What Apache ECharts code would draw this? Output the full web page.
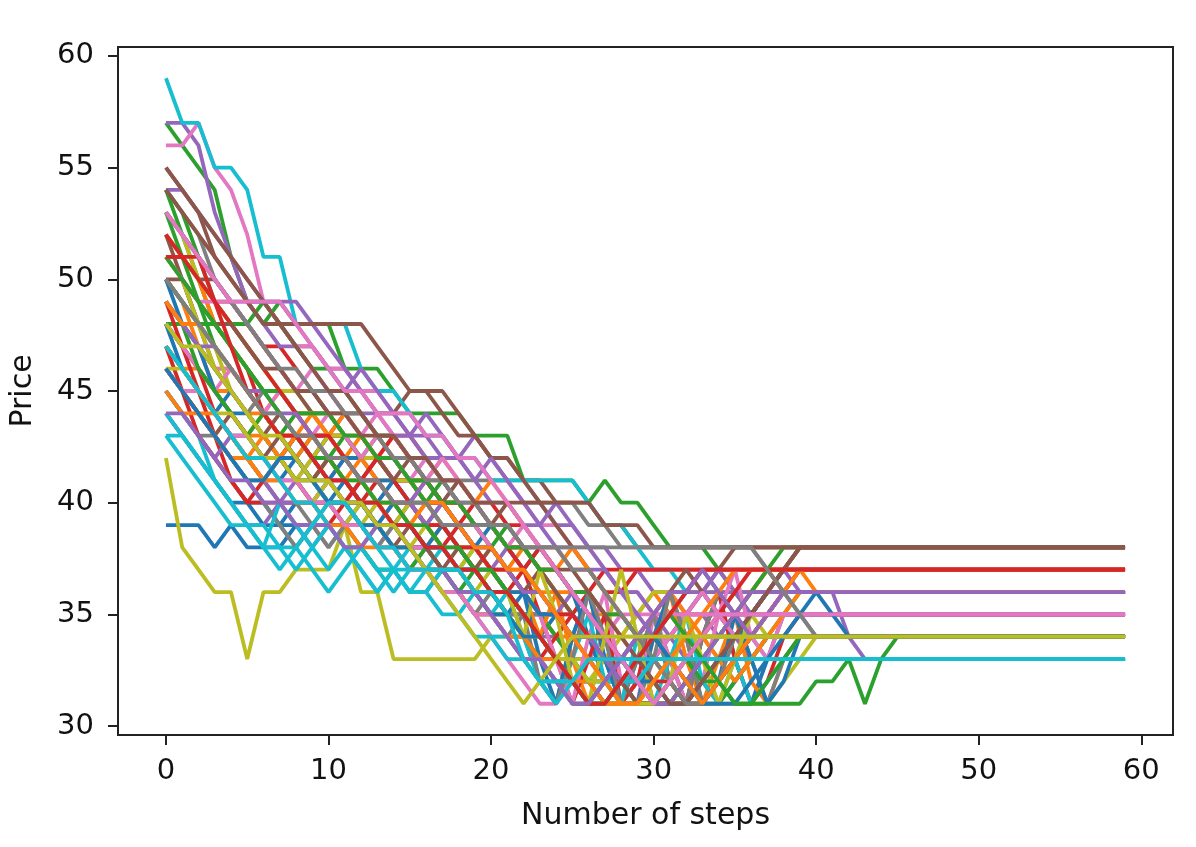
<!DOCTYPE html>
<html>
<head>
<meta charset="utf-8">
<script src="https://cdn.jsdelivr.net/npm/echarts@6/dist/echarts.min.js"></script>
<style>html,body{margin:0;padding:0;background:#fff;}#c{width:1196px;height:847px;}</style>
</head>
<body>
<div id="c"></div>
<script>
var xTicks = [0, 10, 20, 30, 40, 50, 60];
var yTicks = [30, 35, 40, 45, 50, 55, 60];
var palette = ['#1f77b4','#ff7f0e','#2ca02c','#d62728','#9467bd','#8c564b','#e377c2','#7f7f7f','#bcbd22','#17becf'];

var p00 = [39,39,39,38,39,38,38,38,39,39, 39,39,39,39,39,39,38,38,37,37, 36,36,35,34,35,34,33,33,32,33, 33,33,33,33,33,33,33,33,33,33, 33,33,33,33,33,33,33,33,33,33, 33,33,33,33,33,33,33,33,33,33];
var p01 = [49,48,47,46,46,45,44,45,44,43, 43,42,43,42,41,41,40,40,39,39, 38,37,38,37,36,36,35,35,34,35, 36,35,35,35,35,35,35,35,35,35, 35,35,35,35,35,35,35,35,35,35, 35,35,35,35,35,35,35,35,35,35];
var p02 = [57,56,55,54,51,49,48,49,48,48, 48,46,46,46,45,44,44,44,44,43, 43,43,41,41,41,41,40,41,40,40, 39,38,38,38,37,36,35,36,36,36, 36,36,36,36,36,36,36,36,36,36, 36,36,36,36,36,36,36,36,36,36];
var p03 = [51,51,50,49,49,48,47,47,46,45, 45,44,44,43,43,43,42,41,41,40, 40,39,39,38,38,37,37,36,36,37, 37,37,37,37,37,37,37,37,37,37, 37,37,37,37,37,37,37,37,37,37, 37,37,37,37,37,37,37,37,37,37];
var p04 = [57,57,56,53,51,49,48,47,47,46, 45,45,44,44,43,43,42,42,42,43, 42,41,40,40,39,39,38,38,37,37, 36,36,35,35,34,34,33,33,33,33, 33,33,33,33,33,33,33,33,33,33, 33,33,33,33,33,33,33,33,33,33];
var p05 = [55,54,53,51,50,49,49,48,47,47, 46,46,45,44,44,45,45,44,43,43, 42,42,41,41,40,40,40,39,39,38, 38,38,38,38,38,38,38,38,38,38, 38,38,38,38,38,38,38,38,38,38, 38,38,38,38,38,38,38,38,38,38];
var p06 = [56,56,57,55,54,52,49,48,47,47, 46,46,45,45,44,44,43,43,42,42, 41,41,40,39,39,38,38,37,36,36, 35,35,35,35,35,35,35,35,35,35, 35,35,35,35,35,35,35,35,35,35, 35,35,35,35,35,35,35,35,35,35];
var p07 = [54,53,52,50,49,48,47,46,45,45, 44,44,44,43,43,42,42,41,41,41, 41,41,41,40,40,40,39,39,38,38, 38,38,38,38,38,38,38,37,36,35, 34,34,34,34,34,34,34,34,34,34, 34,34,34,34,34,34,34,34,34,34];
var p08 = [42,38,37,36,36,33,36,36,37,37, 37,39,36,36,33,33,33,33,33,33, 34,34,34,33,33,32,32,31,32,33, 34,34,34,34,34,34,34,34,34,34, 34,34,34,34,34,34,34,34,34,34, 34,34,34,34,34,34,34,34,34,34];
var p09 = [59,57,57,55,55,54,51,51,48,48, 48,48,46,45,45,44,43,43,42,42, 41,41,41,41,41,41,40,39,39,38, 37,37,36,36,35,35,35,35,35,35, 35,35,35,35,35,35,35,35,35,35, 35,35,35,35,35,35,35,35,35,35];
var p10 = [44,43,42,41,40,40,39,39,40,40, 41,40,40,39,39,38,38,38,37,37, 36,36,35,35,34,33,33,32,32,31, 31,32,33,33,33,33,33,33,33,33, 33,33,33,33,33,33,33,33,33,33, 33,33,33,33,33,33,33,33,33,33];
var p11 = [48,47,46,45,44,43,43,42,42,41, 42,41,40,40,39,39,38,39,38,37, 37,36,36,35,34,34,33,32,32,31, 32,31,32,33,34,35,36,36,36,36, 36,36,36,36,36,36,36,36,36,36, 36,36,36,36,36,36,36,36,36,36];
var p12 = [54,52,50,48,47,46,45,45,44,44, 43,43,42,42,42,41,41,40,40,39, 39,38,37,36,35,34,33,32,31,31, 31,32,33,34,34,34,34,34,34,34, 34,34,34,34,34,34,34,34,34,34, 34,34,34,34,34,34,34,34,34,34];
var p13 = [50,49,48,48,47,46,44,43,43,42, 41,41,40,41,40,40,39,39,38,38, 37,37,36,35,35,34,34,33,33,32, 31,31,32,33,34,35,36,37,37,37, 37,37,37,37,37,37,37,37,37,37, 37,37,37,37,37,37,37,37,37,37];
var p14 = [46,45,44,43,42,42,41,41,41,40, 40,40,39,39,38,38,38,37,37,36, 36,35,35,34,34,33,33,32,31,32, 33,34,35,36,35,34,35,36,36,36, 36,36,34,33,33,33,33,33,33,33, 33,33,33,33,33,33,33,33,33,33];
var p15 = [53,52,51,50,49,48,47,46,45,45, 44,43,43,42,42,41,41,40,40,39, 39,38,38,37,37,36,35,34,33,32, 31,31,31,32,33,34,35,36,37,38, 38,38,38,38,38,38,38,38,38,38, 38,38,38,38,38,38,38,38,38,38];
var p16 = [50,49,48,47,46,45,44,44,43,43, 42,42,41,41,40,40,39,38,38,37, 37,36,35,34,33,32,31,31,32,33, 34,35,35,35,35,35,35,35,35,35, 35,35,35,35,35,35,35,35,35,35, 35,35,35,35,35,35,35,35,35,35];
var p17 = [47,46,45,44,43,42,41,40,40,39, 38,39,39,38,38,37,37,36,36,35, 35,34,34,33,33,32,32,31,31,32, 33,33,34,34,34,34,34,34,34,34, 34,34,34,34,34,34,34,34,34,34, 34,34,34,34,34,34,34,34,34,34];
var p18 = [53,52,50,49,48,47,46,45,45,44, 44,43,43,42,42,41,41,40,40,39, 38,37,36,35,34,33,32,33,34,35, 36,36,36,36,36,36,36,36,36,36, 36,36,36,36,36,36,36,36,36,36, 36,36,36,36,36,36,36,36,36,36];
var p19 = [43,42,41,40,39,39,38,38,38,39, 39,38,38,37,37,37,37,36,36,35, 34,34,33,32,32,32,32,32,32,32, 32,33,33,33,33,33,33,33,33,33, 33,33,33,33,33,33,33,33,33,33, 33,33,33,33,33,33,33,33,33,33];
var p20 = [45,44,43,42,41,40,40,39,39,38, 39,39,40,40,39,39,38,38,37,37, 36,36,35,35,35,34,34,33,33,32, 32,31,31,31,31,32,33,34,34,34, 34,34,34,34,34,34,34,34,34,34, 34,34,34,34,34,34,34,34,34,34];
var p21 = [47,46,46,45,45,44,44,43,43,43, 42,42,42,41,41,41,40,40,39,38, 38,37,37,36,36,35,34,33,32,31, 31,32,33,34,35,36,36,36,36,36, 36,36,36,36,36,36,36,36,36,36, 36,36,36,36,36,36,36,36,36,36];
var p22 = [54,53,51,49,48,48,49,48,47,46, 46,45,44,43,43,42,42,41,40,39, 38,37,36,35,34,33,32,31,31,31, 31,31,31,31,32,33,34,35,35,35, 35,35,35,35,35,35,35,35,35,35, 35,35,35,35,35,35,35,35,35,35];
var p23 = [48,47,45,43,41,40,40,40,40,40, 40,40,40,39,39,38,38,37,37,36, 35,34,33,33,34,35,36,37,37,37, 37,37,37,37,37,37,37,37,37,37, 37,37,37,37,37,37,37,37,37,37, 37,37,37,37,37,37,37,37,37,37];
var p24 = [44,43,42,41,40,39,39,40,40,40, 41,41,40,40,39,39,38,38,37,37, 36,35,34,33,32,31,31,32,33,34, 35,36,36,36,36,36,36,36,36,36, 36,36,36,36,36,36,36,36,36,36, 36,36,36,36,36,36,36,36,36,36];
var p25 = [51,51,50,50,49,48,47,46,45,44, 44,43,42,42,41,41,40,40,39,38, 37,36,35,34,33,32,31,31,31,32, 33,34,35,36,37,38,38,38,38,38, 38,38,38,38,38,38,38,38,38,38, 38,38,38,38,38,38,38,38,38,38];
var p26 = [49,48,47,46,46,45,44,43,42,41, 41,40,40,39,40,40,41,40,39,39, 38,37,36,36,35,34,33,32,31,32, 33,32,31,32,33,34,35,35,35,35, 35,35,35,35,35,35,35,35,35,35, 35,35,35,35,35,35,35,35,35,35];
var p27 = [51,50,48,47,46,45,44,43,42,41, 40,40,39,38,39,38,38,37,37,36, 36,35,35,34,33,33,32,31,32,33, 34,33,32,31,32,33,34,34,34,34, 34,34,34,34,34,34,34,34,34,34, 34,34,34,34,34,34,34,34,34,34];
var p28 = [50,49,48,47,45,44,43,42,41,41, 40,39,40,40,40,40,40,39,38,38, 37,36,35,34,33,33,33,34,34,34, 34,34,34,34,34,34,34,34,34,34, 34,34,34,34,34,34,34,34,34,34, 34,34,34,34,34,34,34,34,34,34];
var p29 = [46,45,44,43,42,41,40,39,38,37, 36,37,38,37,36,37,37,37,37,36, 35,35,34,33,32,32,32,32,32,32, 33,33,33,33,33,33,33,33,33,33, 33,33,33,33,33,33,33,33,33,33, 33,33,33,33,33,33,33,33,33,33];
var p30 = [48,47,46,45,44,44,43,42,42,43, 43,42,42,41,41,40,40,39,39,38, 38,37,36,35,35,34,34,33,32,33, 34,35,36,37,36,35,34,34,34,34, 34,34,34,34,34,34,34,34,34,34, 34,34,34,34,34,34,34,34,34,34];
var p31 = [52,51,50,48,47,46,45,45,44,44, 43,43,42,42,41,41,41,40,40,39, 39,38,38,37,37,36,36,35,34,33, 32,31,32,33,34,35,36,37,36,36, 36,36,36,36,36,36,36,36,36,36, 36,36,36,36,36,36,36,36,36,36];
var p32 = [48,48,47,46,45,44,43,42,41,40, 40,39,38,37,37,36,36,37,37,38, 37,36,35,34,33,32,31,31,31,31, 31,31,32,33,34,35,35,35,35,35, 35,35,35,35,35,35,35,35,35,35, 35,35,35,35,35,35,35,35,35,35];
var p33 = [47,46,45,44,43,42,42,42,43,43, 43,43,42,42,41,41,40,40,40,39, 39,38,38,37,37,36,36,35,35,34, 33,32,31,31,32,33,34,35,36,37, 37,37,37,37,37,37,37,37,37,37, 37,37,37,37,37,37,37,37,37,37];
var p34 = [54,54,53,52,51,50,49,49,49,48, 47,46,45,44,44,43,43,42,42,41, 40,40,39,39,38,38,37,37,36,36, 35,34,33,32,33,34,35,36,37,36, 36,36,36,36,36,36,36,36,36,36, 36,36,36,36,36,36,36,36,36,36];
var p35 = [55,54,53,52,51,50,49,48,48,48, 48,48,48,47,46,45,45,45,44,43, 42,42,41,40,39,38,37,36,35,34, 33,32,31,32,33,34,35,36,37,38, 38,38,38,38,38,38,38,38,38,38, 38,38,38,38,38,38,38,38,38,38];
var p36 = [47,46,45,44,43,43,42,42,41,40, 41,42,41,40,39,38,38,37,36,35, 34,33,32,31,31,32,33,34,35,35, 35,35,35,35,35,35,35,35,35,35, 35,35,35,35,35,35,35,35,35,35, 35,35,35,35,35,35,35,35,35,35];
var p37 = [45,44,43,43,42,41,41,40,39,39, 38,39,39,39,38,38,37,37,36,35, 35,35,35,35,35,35,34,33,32,31, 31,32,33,34,33,32,33,34,34,34, 34,34,34,34,34,34,34,34,34,34, 34,34,34,34,34,34,34,34,34,34];
var p38 = [52,51,50,49,48,47,46,45,44,44, 43,43,42,42,41,41,40,39,38,37, 36,35,34,34,33,32,31,31,31,31, 31,31,31,31,31,31,31,31,32,33, 34,34,34,34,34,34,34,34,34,34, 34,34,34,34,34,34,34,34,34,34];
var p39 = [50,49,48,47,46,45,44,43,42,41, 41,40,39,38,37,36,36,37,37,37, 36,35,34,33,32,32,32,32,32,32, 32,31,32,33,34,35,34,33,33,33, 33,33,33,33,33,33,33,33,33,33, 33,33,33,33,33,33,33,33,33,33];
var p40 = [47,46,45,44,45,44,43,42,43,42, 41,42,41,40,41,40,39,40,39,38, 39,38,37,38,37,36,34,32,31,33, 35,32,31,34,36,33,31,33,35,35, 35,35,35,35,35,35,35,35,35,35, 35,35,35,35,35,35,35,35,35,35];
var p41 = [50,49,47,45,44,43,44,43,42,43, 42,41,42,41,40,39,40,39,38,37, 38,37,36,34,36,33,31,34,32,31, 34,36,33,31,33,35,32,31,33,34, 34,34,34,34,34,34,34,34,34,34, 34,34,34,34,34,34,34,34,34,34];
var p42 = [53,51,49,47,46,45,44,43,44,43, 42,43,42,43,42,41,40,41,40,39, 38,39,38,37,36,35,34,33,31,31, 31,32,33,32,31,32,33,34,35,36, 36,36,36,36,36,36,36,36,36,36, 36,36,36,36,36,36,36,36,36,36];
var p43 = [49,47,46,44,43,42,41,42,43,42, 41,40,41,42,41,40,39,38,39,38, 37,36,37,35,33,31,33,35,31,32, 35,33,31,34,36,33,31,32,34,35, 35,35,35,35,35,35,35,35,35,35, 35,35,35,35,35,35,35,35,35,35];
var p44 = [45,44,43,42,43,42,41,40,41,42, 43,42,41,40,39,40,41,40,39,38, 37,38,37,36,35,36,35,34,33,32, 33,34,35,36,37,36,35,36,37,37, 37,37,37,37,37,37,37,37,37,37, 37,37,37,37,37,37,37,37,37,37];
var p45 = [52,50,48,46,45,44,43,44,43,42, 43,44,43,42,41,42,41,40,41,40, 39,40,39,38,37,36,35,34,33,34, 35,36,37,36,35,34,35,36,36,36, 36,36,36,36,36,36,36,36,36,36, 36,36,36,36,36,36,36,36,36,36];
var p46 = [48,47,46,45,46,45,44,45,44,43, 44,43,42,43,42,41,42,41,40,39, 38,37,36,35,33,31,34,36,32,31, 35,33,31,32,35,37,34,33,35,35, 35,35,35,35,35,35,35,35,35,35, 35,35,35,35,35,35,35,35,35,35];
var p47 = [46,45,44,43,42,41,40,39,38,39, 40,39,38,39,38,37,38,37,36,35, 36,35,34,32,31,34,36,33,31,33, 35,32,31,34,36,35,33,31,33,34, 34,34,34,34,34,34,34,34,34,34, 34,34,34,34,34,34,34,34,34,34];
var p48 = [51,50,48,46,45,44,43,42,41,40, 41,40,39,40,39,38,39,38,37,38, 37,36,35,34,33,32,31,32,33,34, 33,32,31,32,33,34,34,34,34,34, 34,34,34,34,34,34,34,34,34,34, 34,34,34,34,34,34,34,34,34,34];
var p49 = [45,44,43,41,40,39,38,40,39,38, 37,38,37,36,37,36,37,38,37,36, 35,36,34,32,31,33,35,32,31,34, 31,33,35,32,31,33,31,32,33,33, 33,33,33,33,33,33,33,33,33,33, 33,33,33,33,33,33,33,33,33,33];
var p50 = [50,48,47,45,44,43,42,41,42,41, 40,41,40,39,40,39,38,39,38,37, 36,35,36,33,31,34,36,33,31,31, 34,36,34,31,32,35,33,31,32,34, 34,34,34,34,34,34,34,34,34,34, 34,34,34,34,34,34,34,34,34,34];
var p51 = [46,45,44,44,43,42,43,42,43,44, 43,44,43,42,43,42,41,42,41,40, 41,40,39,38,37,38,37,36,35,34, 35,36,35,34,33,32,33,34,35,36, 36,36,36,36,36,36,36,36,36,36, 36,36,36,36,36,36,36,36,36,36];
var p52 = [49,48,46,45,44,43,44,43,42,41, 42,41,40,39,38,37,38,37,36,37, 36,35,34,33,32,31,31,31,32,31, 31,31,32,33,34,35,36,37,38,38, 38,38,38,38,38,38,38,38,38,38, 38,38,38,38,38,38,38,38,38,38];
var p53 = [47,45,43,42,41,40,41,42,41,40, 39,40,41,42,43,42,41,40,39,40, 39,38,37,38,37,36,35,34,33,32, 31,32,33,34,35,36,37,37,37,37, 37,37,37,37,37,37,37,37,37,37, 37,37,37,37,37,37,37,37,37,37];
var p54 = [53,52,51,50,49,49,49,49,48,47, 46,45,46,45,44,43,44,43,42,41, 42,41,40,39,40,39,38,37,36,35, 34,33,32,31,32,33,34,35,36,36, 36,36,36,36,36,36,36,36,36,36, 36,36,36,36,36,36,36,36,36,36];
var p55 = [46,45,44,43,44,43,42,43,42,41, 42,41,40,39,38,39,38,37,38,37, 38,37,36,37,36,35,34,33,32,31, 31,31,31,32,33,34,35,36,37,38, 38,38,38,38,38,38,38,38,38,38, 38,38,38,38,38,38,38,38,38,38];
var p56 = [51,50,49,49,49,48,47,46,45,46, 45,44,43,44,43,42,41,42,41,40, 39,38,39,38,37,36,35,34,33,32, 33,34,35,36,35,34,35,35,35,35, 35,35,35,35,35,35,35,35,35,35, 35,35,35,35,35,35,35,35,35,35];
var p57 = [49,48,47,46,45,44,45,44,43,42, 41,40,39,38,39,40,39,38,37,36, 35,34,35,32,31,33,36,34,31,31, 33,36,34,31,32,34,34,34,34,34, 34,34,34,34,34,34,34,34,34,34, 34,34,34,34,34,34,34,34,34,34];
var p58 = [47,46,45,44,43,42,41,42,41,42, 43,42,41,40,39,40,39,38,37,36, 37,36,34,37,35,32,31,34,37,34, 31,32,35,33,31,33,35,34,34,34, 34,34,34,34,34,34,34,34,34,34, 34,34,34,34,34,34,34,34,34,34];
var p59 = [44,43,42,41,40,39,39,38,37,38, 39,38,37,36,37,38,37,36,35,36, 35,34,33,32,31,32,31,32,33,32, 31,32,33,33,33,33,33,33,33,33, 33,33,33,33,33,33,33,33,33,33, 33,33,33,33,33,33,33,33,33,33];
var p60 = [48,46,45,44,43,43,42,42,41,41, 40,40,40,39,39,39,38,38,37,37, 37,36,36,35,35,34,34,33,33,32, 32,31,31,32,33,34,35,36,36,36, 36,36,36,36,36,36,36,36,36,36, 36,36,36,36,36,36,36,36,36,36];
var p61 = [45,44,44,43,42,42,41,41,40,40, 39,39,38,38,38,37,37,36,36,35, 35,34,34,33,33,32,32,31,31,31, 32,33,34,35,36,37,37,37,37,37, 37,37,37,37,37,37,37,37,37,37, 37,37,37,37,37,37,37,37,37,37];
var p62 = [50,49,48,48,47,46,45,45,44,44, 44,43,43,42,42,41,41,40,40,39, 39,38,38,37,37,36,36,35,35,34, 34,33,33,32,32,31,31,32,33,34, 34,34,34,34,34,34,34,34,34,34, 34,34,34,34,34,34,34,34,34,34];
var p63 = [52,51,50,49,48,47,46,45,44,43, 43,42,41,41,40,40,39,39,38,38, 37,37,36,36,35,35,34,34,33,33, 32,32,31,31,32,33,34,35,36,37, 37,37,37,37,37,37,37,37,37,37, 37,37,37,37,37,37,37,37,37,37];
var p64 = [49,48,47,47,46,45,45,44,44,43, 42,42,41,41,40,40,39,40,39,38, 38,37,36,36,35,34,34,33,32,32, 31,31,32,33,34,35,36,36,36,36, 36,36,36,36,36,36,36,36,36,36, 36,36,36,36,36,36,36,36,36,36];
var p65 = [50,50,49,48,48,47,46,46,45,45, 44,44,43,43,42,42,41,41,40,40, 39,39,38,38,37,37,36,35,34,33, 32,31,31,32,33,34,35,36,37,38, 38,38,38,38,38,38,38,38,38,38, 38,38,38,38,38,38,38,38,38,38];
var p66 = [46,45,45,44,43,43,42,41,41,40, 40,39,39,38,38,37,37,36,36,35, 35,34,33,33,32,32,31,31,32,33, 34,35,35,35,35,35,35,35,35,35, 35,35,35,35,35,35,35,35,35,35, 35,35,35,35,35,35,35,35,35,35];
var p67 = [53,52,51,50,49,48,47,46,46,45, 45,44,44,43,42,42,41,41,40,40, 39,39,38,38,38,37,37,36,35,34, 33,32,31,31,32,33,34,34,34,34, 34,34,34,34,34,34,34,34,34,34, 34,34,34,34,34,34,34,34,34,34];
var p68 = [46,46,45,44,44,43,42,42,41,41, 40,40,39,39,38,38,37,37,36,36, 35,35,34,34,33,33,32,32,31,31, 31,32,33,34,34,34,34,34,34,34, 34,34,34,34,34,34,34,34,34,34, 34,34,34,34,34,34,34,34,34,34];
var p69 = [47,46,45,44,43,42,42,41,40,40, 39,38,38,37,37,36,36,35,35,34, 34,33,33,32,32,32,31,31,32,32, 33,33,33,33,33,33,33,33,33,33, 33,33,33,33,33,33,33,33,33,33, 33,33,33,33,33,33,33,33,33,33];
var p70 = [46,45,44,43,42,41,41,42,42,41, 40,40,39,39,38,38,37,37,36,36, 35,35,34,34,33,32,31,32,33,34, 34,33,32,31,31,31,32,33,34,35, 36,35,34,34,34,34,34,34,34,34, 34,34,34,34,34,34,34,34,34,34];
var p71 = [49,48,48,47,46,45,44,43,43,42, 42,41,41,40,40,39,40,40,39,38, 38,37,37,36,35,34,33,32,31,31, 32,33,32,31,32,33,34,35,36,37, 36,36,36,36,36,36,36,36,36,36, 36,36,36,36,36,36,36,36,36,36];
var p72 = [51,50,49,48,47,46,45,44,43,42, 42,41,41,40,40,39,39,38,38,37, 37,36,35,34,33,32,31,31,32,33, 34,35,34,33,32,31,31,31,31,31, 32,32,33,31,33,34,34,34,34,34, 34,34,34,34,34,34,34,34,34,34];
var p73 = [51,51,51,49,47,45,44,43,43,42, 41,41,40,40,39,39,38,38,37,37, 36,36,35,34,33,32,31,31,32,33, 34,35,36,37,37,37,37,37,37,37, 37,37,37,37,37,37,37,37,37,37, 37,37,37,37,37,37,37,37,37,37];
var p74 = [44,44,43,42,41,41,40,40,39,39, 39,38,38,39,39,38,37,37,36,36, 35,34,33,33,32,31,31,32,33,34, 35,36,36,37,36,35,34,35,36,36, 36,36,36,36,36,36,36,36,36,36, 36,36,36,36,36,36,36,36,36,36];
var p75 = [54,53,52,51,50,49,48,48,47,46, 45,45,44,43,43,42,42,41,41,40, 40,40,40,40,40,40,40,39,39,39, 38,38,38,38,38,38,38,38,38,38, 38,38,38,38,38,38,38,38,38,38, 38,38,38,38,38,38,38,38,38,38];
var p76 = [53,52,51,50,49,49,49,49,48,47, 46,45,45,44,44,44,43,43,42,42, 41,40,39,38,37,36,35,34,33,32, 31,32,33,34,35,35,35,35,35,35, 35,35,35,35,35,35,35,35,35,35, 35,35,35,35,35,35,35,35,35,35];
var p77 = [50,49,48,47,46,45,44,44,43,43, 42,42,41,41,40,40,40,39,39,39, 39,39,38,38,38,38,38,38,38,38, 38,38,38,38,38,38,38,37,36,35, 34,34,34,34,34,34,34,34,34,34, 34,34,34,34,34,34,34,34,34,34];
var p78 = [48,47,47,46,45,44,43,43,42,41, 41,40,40,39,39,38,37,36,35,34, 33,32,31,32,33,34,34,34,34,34, 34,34,34,34,34,34,34,34,34,34, 34,34,34,34,34,34,34,34,34,34, 34,34,34,34,34,34,34,34,34,34];
var p79 = [43,43,42,41,40,39,38,37,38,39, 40,40,39,38,38,37,37,37,37,36, 36,35,33,32,32,32,33,33,33,33, 33,33,33,33,33,33,33,33,33,33, 33,33,33,33,33,33,33,33,33,33, 33,33,33,33,33,33,33,33,33,33];

var paths = [p00,p01,p02,p03,p04,p05,p06,p07,p08,p09,p10,p11,p12,p13,p14,p15,p16,p17,p18,p19,
             p20,p21,p22,p23,p24,p25,p26,p27,p28,p29,p30,p31,p32,p33,p34,p35,p36,p37,p38,p39,
             p40,p41,p42,p43,p44,p45,p46,p47,p48,p49,p50,p51,p52,p53,p54,p55,p56,p57,p58,p59,
             p60,p61,p62,p63,p64,p65,p66,p67,p68,p69,p70,p71,p72,p73,p74,p75,p76,p77,p78,p79];

var series = paths.map(function (vals, k) {
  return {
    type: 'line',
    data: vals.map(function (v, i) { return [i, v]; }),
    showSymbol: false,
    symbol: 'none',
    silent: true,
    lineStyle: { width: 3.8, color: palette[k % 10] },
    itemStyle: { color: palette[k % 10] }
  };
});

var font = 'DejaVu Sans';
var chart = echarts.init(document.getElementById('c'), null, { renderer: 'canvas' });
chart.setOption({
  animation: false,
  backgroundColor: '#fff',
  grid: { left: 118, right: 23, top: 47, bottom: 112, show: true, borderColor: '#222', borderWidth: 2, backgroundColor: 'transparent' },
  xAxis: {
    type: 'value', min: -2.95, max: 61.95,
    name: 'Number of steps', nameLocation: 'middle', nameGap: 66,
    nameTextStyle: { fontFamily: font, fontSize: 30, color: '#111' },
    axisLine: { show: true, onZero: false, lineStyle: { color: '#222', width: 2 } },
    axisTick: { show: true, inside: false, length: 10, lineStyle: { color: '#222', width: 2 }, customValues: xTicks },
    axisLabel: { fontFamily: font, fontSize: 29, color: '#111', margin: 22, customValues: xTicks },
    splitLine: { show: false }
  },
  yAxis: {
    type: 'value', min: 29.6, max: 60.4,
    name: 'Price', nameLocation: 'middle', nameGap: 80, nameRotate: 90,
    nameTextStyle: { fontFamily: font, fontSize: 30, color: '#111' },
    axisLine: { show: true, onZero: false, lineStyle: { color: '#222', width: 2 } },
    axisTick: { show: true, inside: false, length: 10, lineStyle: { color: '#222', width: 2 }, customValues: yTicks },
    axisLabel: { fontFamily: font, fontSize: 29, color: '#111', margin: 24, customValues: yTicks },
    splitLine: { show: false }
  },
  series: series
});
</script>
</body>
</html>
